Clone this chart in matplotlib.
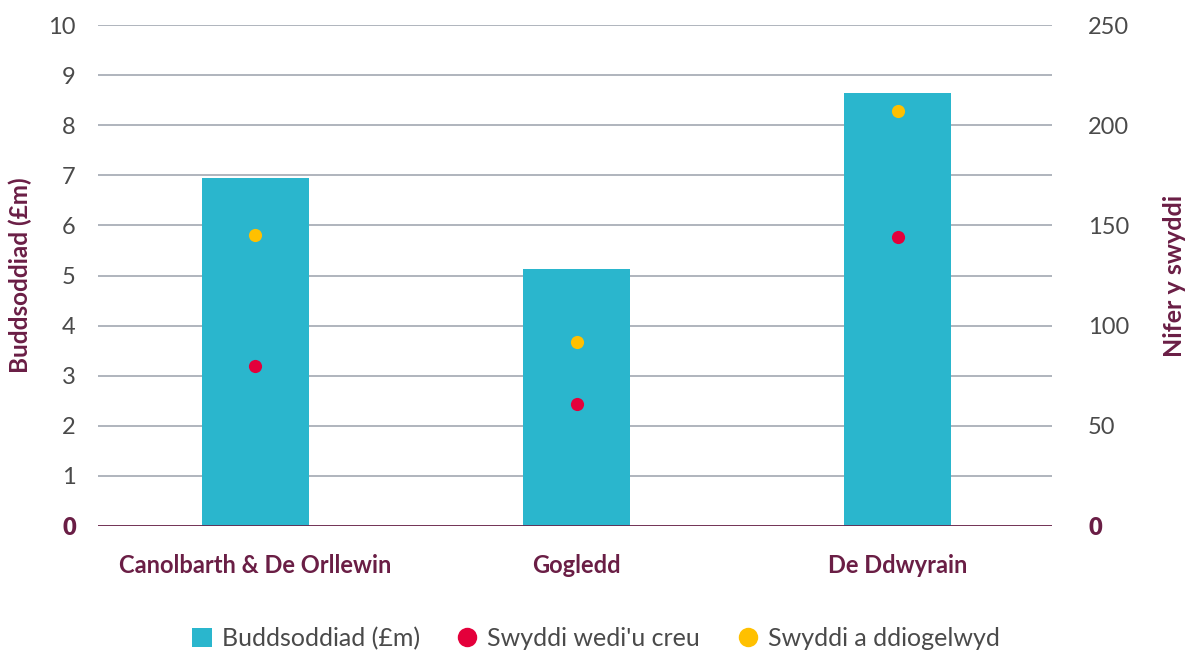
import matplotlib.pyplot as plt
from matplotlib.lines import Line2D
from matplotlib.patches import Patch

regions = ["Canolbarth & De Orllewin", "Gogledd", "De Ddwyrain"]
investment = [6.95, 5.13, 8.65]      # £m, left axis
jobs_created = [80, 61, 144]         # right axis
jobs_safeguarded = [145, 92, 207]    # right axis

left_ticks = list(range(0, 11))
right_ticks = [0, 50, 100, 150, 200, 250]

TEAL = "#2ab6cd"
RED = "#e4003b"
YELLOW = "#ffc000"
MAROON = "#6a1e45"
GREY_TXT = "#4a4a4a"
GRID = "#9aa0ab"

plt.rcParams["font.family"] = ["Lato", "DejaVu Sans"]

fig = plt.figure(figsize=(11.91, 6.55), dpi=100)
ax = fig.add_axes([98 / 1191, 129 / 655, 954 / 1191, 501 / 655])
ax2 = ax.twinx()

x = list(range(len(regions)))
ax.bar(x, investment, width=0.333, color=TEAL, zorder=2)
ax.set_xlim(-0.49, 2.48)
ax.set_ylim(0, 10)
ax.set_yticks(left_ticks)
ax.set_yticklabels([str(t) for t in left_ticks])
ax.yaxis.grid(True, color=GRID, linewidth=1.1, zorder=0)
ax.set_axisbelow(True)

ax2.scatter(x, jobs_created, s=90, color=RED, zorder=3, linewidths=0)
ax2.scatter(x, jobs_safeguarded, s=90, color=YELLOW, zorder=3, linewidths=0)
ax2.set_ylim(0, 250)
ax2.set_yticks(right_ticks)
ax2.set_yticklabels([str(t) for t in right_ticks])

for a in (ax, ax2):
    for s in a.spines.values():
        s.set_visible(False)
    a.tick_params(length=0)
ax.axhline(0, color=MAROON, linewidth=1.2, zorder=4)

ax.tick_params(axis="y", labelsize=17, labelcolor=GREY_TXT, pad=16)
ax2.tick_params(axis="y", labelsize=17, labelcolor=GREY_TXT, pad=26)
for a in (ax, ax2):
    zero = a.get_yticklabels()[0]
    zero.set_color(MAROON)
    zero.set_fontweight("heavy")

ax.set_xticks(x)
ax.set_xticklabels(regions, fontsize=17, fontweight="bold", color=MAROON)
ax.tick_params(axis="x", pad=20)

ax.set_ylabel("Buddsoddiad (£m)", fontsize=17.5, fontweight="bold",
              color=MAROON, labelpad=12)
ax2.set_ylabel("Nifer y swyddi", fontsize=18, fontweight="bold",
               color=MAROON, labelpad=24)

handles = [
    Patch(facecolor=TEAL, label="Buddsoddiad (£m)"),
    Line2D([], [], marker="o", linestyle="none", markersize=14,
           markerfacecolor=RED, markeredgewidth=0, label="Swyddi wedi'u creu"),
    Line2D([], [], marker="o", linestyle="none", markersize=14,
           markerfacecolor=YELLOW, markeredgewidth=0, label="Swyddi a ddiogelwyd"),
]
leg = fig.legend(handles=handles, loc="center", bbox_to_anchor=(0.5, 0.025),
                 ncol=3, frameon=False, fontsize=18, handlelength=0.8,
                 handleheight=0.8, handletextpad=0.4, columnspacing=1.5)
for t in leg.get_texts():
    t.set_color(GREY_TXT)

fig.savefig("out.png", dpi=100)
